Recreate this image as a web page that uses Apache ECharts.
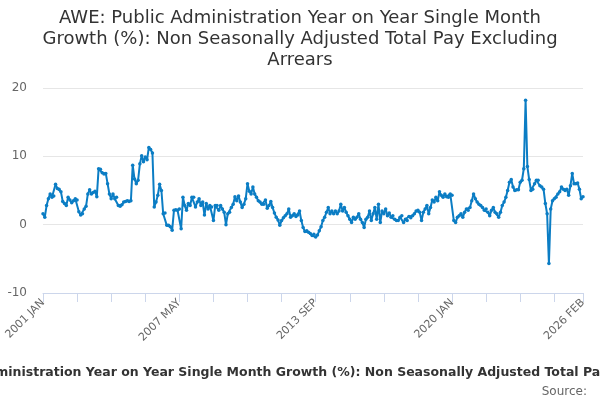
<!DOCTYPE html>
<html>
<head>
<meta charset="utf-8">
<script src="https://cdn.jsdelivr.net/npm/echarts@6/dist/echarts.min.js"></script>
<style>html,body{margin:0;padding:0;background:#fff}#c{width:600px;height:400px}</style>
</head>
<body>
<div id="c"></div>
<script>
var chartTitle = "AWE: Public Administration Year on Year Single Month\nGrowth (%): Non Seasonally Adjusted Total Pay Excluding\nArrears";
var axisName = "AWE: Public Administration Year on Year Single Month Growth (%): Non Seasonally Adjusted Total Pay Excluding Arrears";
var monthNames = ["JAN","FEB","MAR","APR","MAY","JUN","JUL","AUG","SEP","OCT","NOV","DEC"];
var startYear = 2001;
var yTicks = [-10, 0, 10, 20];
var values = [
  1.6, 1.1, 2.8, 3.8, 4.5, 4.0, 4.2, 5.9, 5.3, 5.2, 4.8, 3.4,
  3.1, 2.8, 4.0, 3.6, 3.2, 3.5, 3.8, 3.6, 1.9, 1.4, 1.6, 2.3,
  2.7, 4.5, 5.1, 4.5, 4.7, 4.9, 4.1, 8.2, 8.1, 7.6, 7.4, 7.5,
  6.0, 4.5, 3.8, 4.5, 3.8, 4.0, 2.8, 2.7, 2.9, 3.3, 3.4, 3.5,
  3.4, 3.5, 8.7, 6.7, 6.0, 6.5, 8.9, 10.1, 9.2, 9.9, 9.5, 11.3,
  11.0, 10.5, 2.6, 3.3, 4.3, 5.9, 5.0, 1.6, 1.7, -0.1, -0.1, -0.3,
  -0.8, 2.1, 2.2, 2.1, 2.3, -0.6, 4.0, 2.8, 2.1, 3.1, 2.8, 4.0,
  4.0, 2.6, 3.3, 3.8, 2.8, 3.3, 1.4, 3.1, 2.3, 2.8, 2.6, 0.6,
  2.8, 2.8, 2.1, 2.8, 2.3, 1.8, 0.0, 1.6, 1.8, 2.5, 3.0, 4.1,
  3.5, 4.2, 3.3, 2.5, 3.0, 3.8, 6.0, 4.9, 4.5, 5.5, 4.5, 4.0,
  3.5, 3.3, 3.0, 3.0, 3.6, 2.4, 2.8, 3.4, 2.5, 1.7, 1.1, 0.7,
  -0.1, 0.6, 1.0, 1.3, 1.6, 2.3, 1.1, 1.3, 1.6, 1.2, 1.4, 2.0,
  0.6, -0.4, -1.0, -0.9, -1.1, -1.3, -1.6, -1.4, -1.8, -1.5, -0.9, -0.3,
  0.6, 1.1, 1.8, 2.5, 1.6, 2.0, 1.6, 2.0, 1.6, 2.0, 3.0, 2.0,
  2.5, 1.8, 1.3, 0.8, 0.3, 1.1, 0.8, 1.1, 1.6, 0.8, 0.3, -0.4,
  0.8, 1.1, 2.0, 0.6, 1.6, 2.5, 0.8, 3.0, 0.3, 2.0, 1.6, 2.3,
  1.3, 1.7, 1.1, 1.3, 0.8, 0.6, 0.6, 1.1, 1.3, 0.3, 0.8, 0.6,
  1.2, 1.0, 1.3, 1.6, 2.0, 2.1, 1.8, 0.6, 1.8, 2.3, 2.8, 1.6,
  2.5, 3.6, 3.3, 4.0, 3.5, 4.8, 4.3, 4.0, 4.5, 4.1, 4.0, 4.5,
  4.3, 0.6, 0.3, 1.1, 1.3, 1.6, 1.1, 1.8, 2.3, 2.1, 2.5, 3.5,
  4.5, 3.8, 3.3, 3.0, 2.8, 2.5, 2.1, 2.3, 1.8, 1.3, 2.1, 2.5,
  1.8, 1.6, 1.1, 1.8, 2.8, 3.3, 4.0, 5.0, 6.2, 6.6, 5.5, 5.0,
  5.1, 5.1, 6.2, 6.5, 8.2, 18.2, 8.5, 6.6, 5.0, 5.2, 6.0, 6.5,
  6.5, 5.7, 5.5, 5.2, 3.1, 1.6, -5.7, 2.3, 3.5, 3.8, 4.0, 4.5,
  4.8, 5.5, 5.2, 5.0, 5.2, 4.3, 5.7, 7.5, 6.0, 6.0, 6.1, 5.2,
  3.8, 4.1
];
var categories = [];
for (var k = 0; k < values.length; k++) {
  categories.push((startYear + Math.floor(k / 12)) + " " + monthNames[k % 12]);
}
var lastIdx = categories.length - 1;
var font = "DejaVu Sans";
var chart = echarts.init(document.getElementById('c'), null, {renderer: 'canvas'});
chart.setOption({
  animation: false,
  backgroundColor: '#ffffff',
  textStyle: {fontFamily: font},
  title: [{
    text: chartTitle,
    left: 'center',
    top: 3,
    textStyle: {fontFamily: font, fontSize: 18, fontWeight: 'normal', color: '#333333', lineHeight: 21}
  }, {
    text: 'Source:',
    right: 8,
    top: 381,
    textStyle: {fontFamily: font, fontSize: 12, fontWeight: 'normal', color: '#666666'}
  }],
  grid: {left: 43, right: 17, top: 88, bottom: 107, containLabel: false, outerBoundsMode: 'none'},
  xAxis: {
    type: 'category',
    boundaryGap: false,
    data: categories,
    name: axisName,
    nameLocation: 'middle',
    nameGap: 73,
    nameTextStyle: {fontFamily: font, fontSize: 12.5, fontWeight: 'bold', color: '#333333'},
    axisLine: {onZero: false, lineStyle: {color: '#ccd6eb', width: 1}},
    axisTick: {
      length: 9,
      lineStyle: {color: '#ccd6eb'},
      interval: function (i) { return i % 19 === 0 || i === lastIdx; }
    },
    axisLabel: {
      rotate: 45,
      color: '#666666',
      fontSize: 11,
      fontFamily: font,
      margin: 8,
      interval: function (i) { return i % 76 === 0 || i === lastIdx; }
    },
    splitLine: {show: false}
  },
  yAxis: {
    type: 'value',
    min: yTicks[0],
    max: yTicks[yTicks.length - 1],
    interval: 10,
    axisLine: {show: false},
    axisTick: {show: false},
    axisLabel: {color: '#666666', fontSize: 12, fontFamily: font, margin: 16},
    splitLine: {lineStyle: {color: '#e6e6e6', width: 1}}
  },
  series: [{
    type: 'line',
    data: values,
    showSymbol: true,
    showAllSymbol: true,
    symbol: 'circle',
    symbolSize: 3.5,
    lineStyle: {color: '#0b7dc4', width: 2},
    itemStyle: {color: '#0b7dc4'},
    emphasis: {disabled: true}
  }]
});
</script>
</body>
</html>
